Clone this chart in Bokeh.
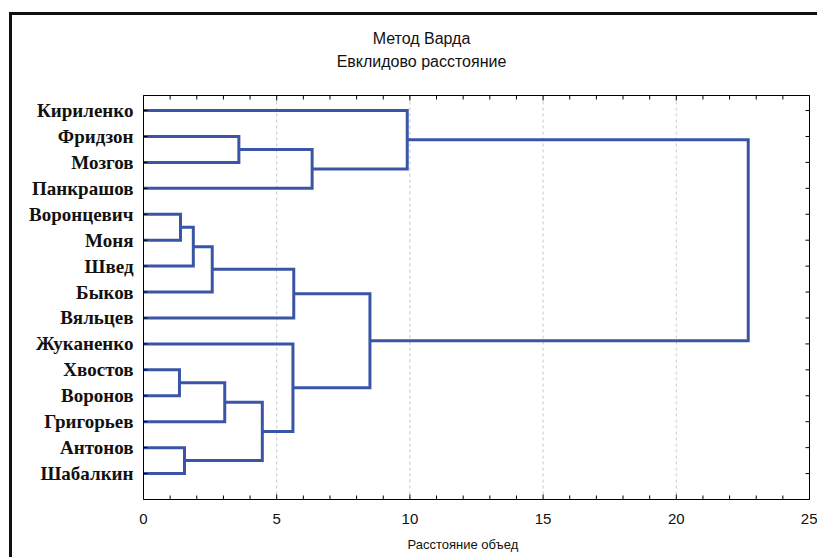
from bokeh.plotting import figure
from bokeh.models import Range1d, LinearAxis, FixedTicker, Title
from bokeh.core.properties import value
from bokeh.embed import file_html
from bokeh.resources import INLINE

# ---- data -------------------------------------------------------------
labels = ["Кириленко", "Фридзон", "Мозгов", "Панкрашов", "Воронцевич", "Моня",
          "Швед", "Быков", "Вяльцев", "Жуканенко", "Хвостов", "Воронов",
          "Григорьев", "Антонов", "Шабалкин"]
# linkage: new cluster ids start at len(labels)
merge_left = [10, 4, 13, 16, 18, 15, 1, 20, 9, 19, 21, 24, 0, 27]
merge_right = [11, 5, 14, 6, 7, 12, 2, 17, 22, 8, 3, 23, 25, 26]
merge_height = [1.35, 1.39, 1.54, 1.87, 2.58, 3.05, 3.58, 4.46, 5.61, 5.64,
                6.33, 8.50, 9.90, 22.7]
x_ticks = [0, 5, 10, 15, 20, 25]
x_minor = list(range(0, 26))
grid_ticks = [5, 10, 15, 20]
title1 = "Метод Варда"
title2 = "Евклидово расстояние"
x_title = "Расстояние объед"

# ---- dendrogram geometry ---------------------------------------------
n = len(labels)
node_y = {i: float(i) for i in range(n)}
node_h = {i: 0.0 for i in range(n)}
xs, ys = [], []
for k, (a, b, h) in enumerate(zip(merge_left, merge_right, merge_height)):
    cid = n + k
    xs.append([node_h[a], h, h, node_h[b]])
    ys.append([node_y[a], node_y[a], node_y[b], node_y[b]])
    node_y[cid] = (node_y[a] + node_y[b]) / 2
    node_h[cid] = h

# ---- layout (pixels) ---------------------------------------------------
X0, X1 = 0, 25
Y_BOT, Y_AX_TOP = 15.0, -0.58
BOX_W, BOX_H = 666, 404            # plot box size in px
px_x = BOX_W / (X1 - X0)
px_y = BOX_H / (Y_BOT - Y_AX_TOP)
PAD = 3                             # px of frame beyond the box on left/right/bottom
TOP_SPACE = 80                      # px above the box for titles
DX, DY = PAD / px_x, PAD / px_y
Y_END = Y_AX_TOP - TOP_SPACE / px_y

W, H = 808, 545
ML = 131 - PAD
MB = 61 - PAD
MR = W - ML - (BOX_W + 2 * PAD)

p = figure(width=W, height=H, output_backend="svg", toolbar_location=None,
           x_range=Range1d(X0 - DX, X1 + DX), y_range=Range1d(Y_BOT + DY, Y_END),
           x_axis_type=None, y_axis_type=None,
           min_border_left=ML, min_border_right=MR,
           min_border_top=0, min_border_bottom=MB)
p.margin = (12, 0, 0, 9)
p.styles = {"border-top": "3px solid #111", "border-left": "3px solid #111"}
p.background_fill_color = "white"
p.border_fill_color = "white"
p.outline_line_color = None
p.xgrid.visible = False
p.ygrid.visible = False

tick_font = "Liberation Sans"

# bottom axis: labels only (lines/ticks drawn below as glyphs)
xb = LinearAxis(ticker=FixedTicker(ticks=x_ticks, minor_ticks=[]))
xb.axis_line_color = None
xb.major_tick_line_color = None
xb.minor_tick_line_color = None
xb.major_tick_in = 0
xb.major_tick_out = 0
xb.major_label_standoff = 14 - PAD
xb.major_label_text_font = tick_font
xb.major_label_text_font_size = "15px"
xb.major_label_text_color = "#111"
p.add_layout(xb, "below")

# left axis: names only
yl = LinearAxis(ticker=FixedTicker(ticks=list(range(n)), minor_ticks=[]))
yl.major_label_overrides = {i: s for i, s in enumerate(labels)}
yl.axis_line_color = None
yl.major_tick_line_color = None
yl.minor_tick_line_color = None
yl.major_tick_in = 0
yl.major_tick_out = 0
yl.major_label_standoff = 10 - PAD
yl.major_label_text_font = "Liberation Serif"
yl.major_label_text_font_style = "bold"
yl.major_label_text_font_size = "19px"
yl.major_label_text_color = "#111"
p.add_layout(yl, "left")

# dashed vertical grid
p.segment(x0=grid_ticks, y0=[Y_AX_TOP] * len(grid_ticks), x1=grid_ticks,
          y1=[Y_BOT] * len(grid_ticks), line_color="#c8c8c8", line_width=1,
          line_dash="3 3")

# dendrogram lines
p.multi_line(xs, ys, line_color="#3b55a6", line_width=3, line_join="miter")

# plot box
p.segment(x0=[X0, X0, X0, X1], y0=[Y_AX_TOP, Y_BOT, Y_AX_TOP, Y_AX_TOP],
          x1=[X1, X1, X0, X1], y1=[Y_AX_TOP, Y_BOT, Y_BOT, Y_BOT],
          line_color="black", line_width=1)

# ticks (inward): top and bottom x ticks, left and right leaf ticks
tick_len = [5 if t in x_ticks else 4 for t in x_minor]
p.segment(x0=x_minor, y0=[Y_AX_TOP] * len(x_minor), x1=x_minor,
          y1=[Y_AX_TOP + d / px_y for d in tick_len], line_color="black", line_width=1)
p.segment(x0=x_minor, y0=[Y_BOT] * len(x_minor), x1=x_minor,
          y1=[Y_BOT - d / px_y for d in tick_len], line_color="black", line_width=1)
leaf = list(range(n))
p.segment(x0=[X0] * n, y0=leaf, x1=[X0 + 4 / px_x] * n, y1=leaf,
          line_color="black", line_width=1)
p.segment(x0=[X1] * n, y0=leaf, x1=[X1 - 4 / px_x] * n, y1=leaf,
          line_color="black", line_width=1)

# titles inside the top space (page px -> data)
box_left_px, box_top_px = 143, 95
title_x = (421 - box_left_px) / px_x
title_y = [Y_AX_TOP + (38 - box_top_px) / px_y, Y_AX_TOP + (61 - box_top_px) / px_y]
p.text(x=[title_x, title_x], y=title_y, text=[title1, title2],
       text_align="center", text_baseline="middle",
       text_font=value(tick_font), text_font_size="16px", text_color="#111")

tx = Title(text=x_title, align="left", offset=264 + PAD, standoff=16,
           text_font=tick_font, text_font_size="13px", text_font_style="normal",
           text_color="#111")
p.add_layout(tx, "below")

open("out.html", "w").write(file_html(p, INLINE))
